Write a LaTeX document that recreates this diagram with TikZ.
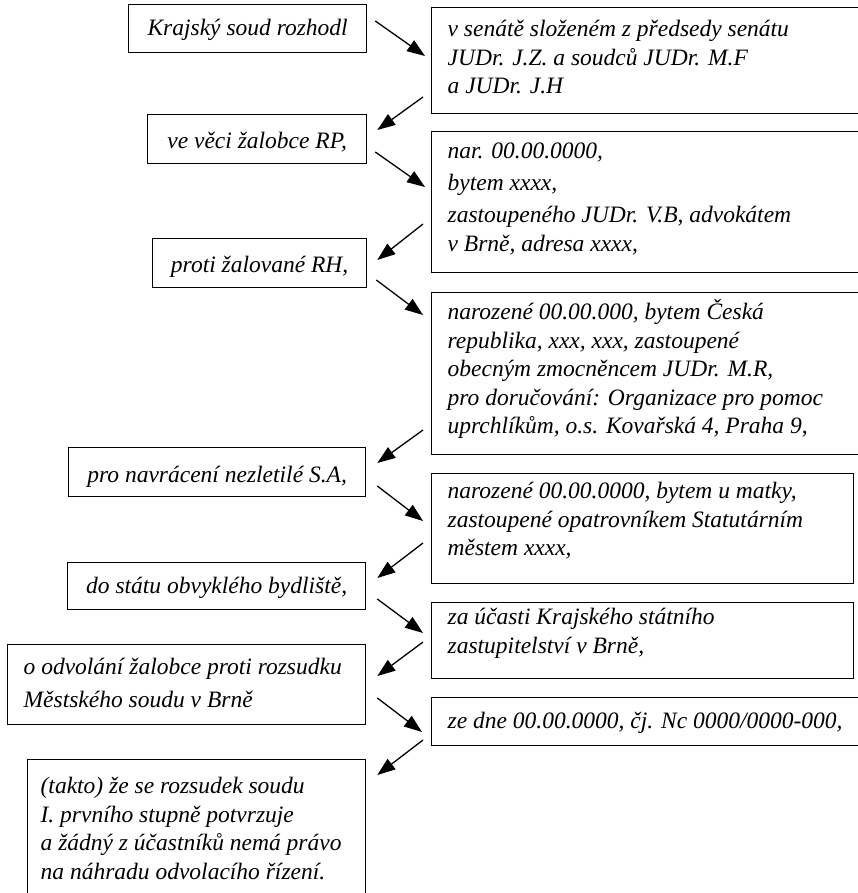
\documentclass[tikz,border=0pt]{standalone}
\usepackage{fontspec}
\setmainfont{Liberation Serif}
\usetikzlibrary{arrows.meta,calc}
\tikzset{
  box/.style={draw=black, line width=1.3pt, anchor=north west, inner sep=0pt,
    font=\fontsize{23.5}{28.5}\selectfont\itshape},
  arr/.style={line width=1.3pt, -{Triangle[length=18pt,width=13pt]}}
}
% left-aligned box: name, x, y, w, h, first-baseline offset, left pad, text
\newcommand\lbx[8]{%
  \node[box, minimum width=#4pt, minimum height=#5pt] (#1) at (#2,#3)
   {\parbox[c][#5pt][t]{#4pt}{\raggedright\leftskip=#7pt\relax
     \vspace*{\dimexpr#6pt-\ht\strutbox\relax}\strut#8\strut}};}
% centered box: name, x, y, w, h, first-baseline offset, text
\newcommand\cbx[7]{%
  \node[box, minimum width=#4pt, minimum height=#5pt] (#1) at (#2,#3)
   {\parbox[c][#5pt][t]{#4pt}{\centering
     \vspace*{\dimexpr#6pt-\ht\strutbox\relax}\strut#7\strut}};}
\begin{document}
\begin{tikzpicture}[x=1pt,y=-1pt]
\useasboundingbox (0,0) rectangle (858,893);
\clip (0,0) rectangle (858,893);

\cbx{b1}{128}{4}{238}{48}{31}{Krajský soud rozhodl}
\lbx{b2}{431}{7}{440}{106}{29}{16}{v senátě složeném z předsedy senátu\\JUDr. J.Z. a soudců JUDr. M.F\\a JUDr. J.H}
\cbx{b3}{147}{114}{219}{49}{34}{ve věci žalobce RP,}
\lbx{b4}{431}{131}{440}{141}{27}{16}{nar. 00.00.0000,\par\vspace{3.5pt}bytem xxxx,\par\vspace{3.5pt}zastoupeného JUDr. V.B, advokátem\\v Brně, adresa xxxx,}
\cbx{b5}{152}{238}{214}{49}{34}{proti žalované RH,}
\lbx{b6}{431}{292}{440}{162}{27}{16}{narozené 00.00.000, bytem Česká\\republika, xxx, xxx, zastoupené\\obecným zmocněncem JUDr. M.R,\\pro doručování: Organizace pro pomoc\\uprchlíkům, o.s. Kovařská 4, Praha 9,}
\cbx{b7}{68}{447}{297}{49}{35}{pro navrácení nezletilé S.A,}
\lbx{b8}{431}{473}{422}{110}{25}{16}{narozené 00.00.0000, bytem u matky,\\zastoupené opatrovníkem Statutárním\\městem xxxx,}
\cbx{b9}{67}{562}{298}{47}{31}{do státu obvyklého bydliště,}
\lbx{b10}{431}{602}{422}{76}{22}{16}{za účasti Krajského státního\\zastupitelství v Brně,}
\lbx{b11}{7}{644}{358}{80}{30}{16}{o odvolání žalobce proti rozsudku\\[4pt]Městského soudu v Brně}
\lbx{b12}{431}{697}{440}{48}{31}{16}{ze dne 00.00.0000, čj. Nc 0000/0000-000,}
\lbx{b13}{27}{759}{338}{150}{34}{13}{(takto) že se rozsudek soudu\\I. prvního stupně potvrzuje\\a žádný z účastníků nemá právo\\na náhradu odvolacího řízení.}

\draw[arr] ($(b1.north east)+(8,17)$) -- ($(b2.north west)+(-6,49)$);
\draw[arr] ($(b2.north west)+(-8,90)$) -- ($(b3.north east)+(10,16)$);
\draw[arr] ($(b3.north east)+(8,38)$) -- ($(b4.north west)+(-6,56)$);
\draw[arr] ($(b4.north west)+(-8,93)$) -- ($(b5.north east)+(10,22)$);
\draw[arr] ($(b5.north east)+(9,42)$) -- ($(b6.north west)+(-8,23)$);
\draw[arr] ($(b6.north west)+(-8,138)$) -- ($(b7.north east)+(11,16)$);
\draw[arr] ($(b7.north east)+(11,39)$) -- ($(b8.north west)+(-8,48)$);
\draw[arr] ($(b8.north west)+(-8,70)$) -- ($(b9.north east)+(11,16)$);
\draw[arr] ($(b9.north east)+(11,37)$) -- ($(b10.north west)+(-8,31)$);
\draw[arr] ($(b10.north west)+(-8,40)$) -- ($(b11.north east)+(11,32)$);
\draw[arr] ($(b11.north east)+(11,54)$) -- ($(b12.north west)+(-9,35)$);
\draw[arr] ($(b12.north west)+(-8,43)$) -- ($(b13.north east)+(11,16)$);
\end{tikzpicture}
\end{document}
